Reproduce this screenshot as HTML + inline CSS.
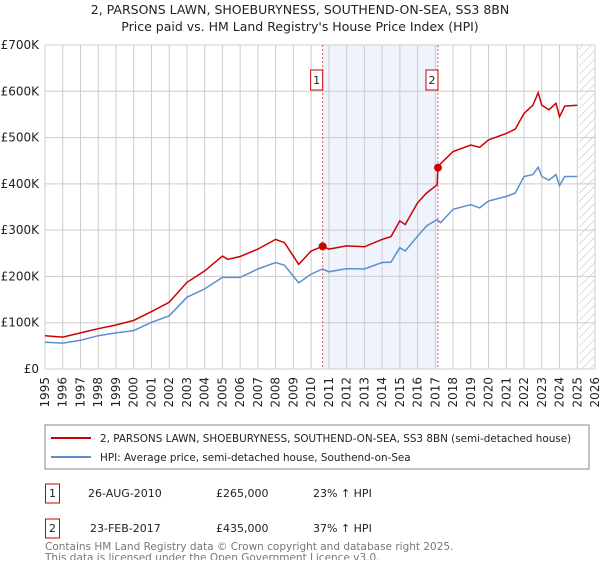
<!DOCTYPE html>
<html><head><meta charset="utf-8"><style>
body{margin:0;background:#fff;font-family:"Liberation Sans","DejaVu Sans",sans-serif;}
svg text{font-family:"DejaVu Sans","Liberation Sans",sans-serif;}
</style></head><body>
<svg id="c" width="600" height="560" viewBox="0 0 600 560" xmlns="http://www.w3.org/2000/svg">
<text x="300" y="14" text-anchor="middle" font-size="12.5" fill="#222">2, PARSONS LAWN, SHOEBURYNESS, SOUTHEND-ON-SEA, SS3 8BN</text>
<text x="300" y="31" text-anchor="middle" font-size="12.5" fill="#222">Price paid vs. HM Land Registry's House Price Index (HPI)</text>
<defs><pattern id="h" width="6" height="6" patternUnits="userSpaceOnUse" patternTransform="rotate(45)"><line x1="0" y1="0" x2="0" y2="6" stroke="#bbb" stroke-width="1"/></pattern></defs>
<g id="plot"></g>
<rect x="45" y="425" width="544" height="44" fill="#fff" stroke="#888"/>
<line x1="51" y1="438" x2="91" y2="438" stroke="#cc0000" stroke-width="2"/>
<text x="100" y="442" font-size="10.4" fill="#222">2, PARSONS LAWN, SHOEBURYNESS, SOUTHEND-ON-SEA, SS3 8BN (semi-detached house)</text>
<line x1="51" y1="457" x2="91" y2="457" stroke="#5b8fd0" stroke-width="2"/>
<text x="100" y="461" font-size="10.4" fill="#222">HPI: Average price, semi-detached house, Southend-on-Sea</text>
<g font-size="11" fill="#222">
<rect x="45.5" y="484" width="14" height="19" fill="none" stroke="#cc0000"/>
<text x="52.5" y="497" text-anchor="middle">1</text>
<text x="88" y="497">26-AUG-2010</text>
<text x="216" y="497">£265,000</text>
<text x="313" y="497">23% ↑ HPI</text>
<rect x="45.5" y="519" width="14" height="19" fill="none" stroke="#cc0000"/>
<text x="52.5" y="532" text-anchor="middle">2</text>
<text x="90" y="532">23-FEB-2017</text>
<text x="216" y="532">£435,000</text>
<text x="313" y="532">37% ↑ HPI</text>
</g>
<text x="45" y="550" font-size="10.5" fill="#777">Contains HM Land Registry data © Crown copyright and database right 2025.</text>
<text x="45" y="561" font-size="10.5" fill="#777">This data is licensed under the Open Government Licence v3.0.</text>
</svg>
<script>
const years=[1995,1996,1997,1998,1999,2000,2001,2002,2003,2004,2005,2006,2007,2008,2009,2010,2011,2012,2013,2014,2015,2016,2017,2018,2019,2020,2021,2022,2023,2024,2025,2026];
const yTicks=[0,100,200,300,400,500,600,700];
const yTickLabels=["£0","£100K","£200K","£300K","£400K","£500K","£600K","£700K"];
const redT=[1995,1996,1997,1998,1999,2000,2001,2002,2003,2004,2005,2005.3,2006,2007,2008,2008.5,2009.3,2010,2010.65,2011,2012,2013,2014,2014.5,2015,2015.3,2016,2016.5,2017.1,2017.15,2018,2019,2019.5,2020,2021,2021.5,2022,2022.5,2022.8,2023,2023.4,2023.8,2024,2024.3,2025];
const redV=[72,69,78,87,95,105,124,144,187,212,244,237,243,259,280,273,226,255,265,259,266,264,280,286,320,312,359,380,398,438,470,484,479,495,509,518,552,570,597,570,560,574,545,568,570];
const hpiT=[1995,1996,1997,1998,1999,2000,2001,2002,2003,2004,2005,2006,2007,2008,2008.5,2009.3,2010,2010.65,2011,2012,2013,2014,2014.5,2015,2015.3,2016,2016.5,2017.1,2017.3,2018,2019,2019.5,2020,2021,2021.5,2022,2022.5,2022.8,2023,2023.4,2023.8,2024,2024.3,2025];
const hpiV=[58,56,62,72,78,83,101,115,155,173,198,198,216,230,224,186,205,216,210,217,216,230,231,262,255,287,309,323,316,345,355,348,363,373,380,416,420,436,416,408,420,396,416,416];
const saleT=[2010.65,2017.15];
const saleV=[265,435];
const saleLabels=["1","2"];
const X=t=>45+(t-1995)*(550/31);
const Y=v=>369-v*(324/700);
const NS="http://www.w3.org/2000/svg";
const g=document.getElementById('plot');
function mk(tag,attrs){const e=document.createElementNS(NS,tag);for(const k in attrs)e.setAttribute(k,attrs[k]);g.appendChild(e);return e;}
let e;
e=mk('rect',{x:X(saleT[0]),y:Y(700),width:X(saleT[1])-X(saleT[0]),height:Y(0)-Y(700),fill:'#eef3fc'});


e=mk('rect',{x:X(2025.1),y:Y(700),width:X(2026)-X(2025.1),height:Y(0)-Y(700),fill:'url(#h)'});


years.forEach(yr=>{
 e=mk('line',{x1:X(yr),x2:X(yr),y1:Y(700),y2:Y(0),stroke:'#ccc','stroke-width':1});
 
 
 const t=mk('text',{x:0,y:0,'font-size':12,fill:'#222','text-anchor':'end',transform:`translate(${X(yr)+4},${Y(0)+8}) rotate(-90)`});
 t.textContent=yr;
 
 
});
yTicks.forEach((v,i)=>{
 e=mk('line',{x1:X(1995),x2:X(2026),y1:Y(v),y2:Y(v),stroke:'#ccc','stroke-width':1});
 
 
 const t=mk('text',{x:39,y:Y(v)+4,'font-size':12,fill:'#222','text-anchor':'end'});
 t.textContent=yTickLabels[i];
 
 
});
saleT.forEach((t,i)=>{
 e=mk('line',{x1:X(t),x2:X(t),y1:Y(700),y2:Y(0),stroke:'#e06060','stroke-dasharray':'2,2','stroke-width':1});
 
 
 e=mk('rect',{x:X(t)-12,y:70,width:12,height:20,fill:'#fff',stroke:'#cc0000'});
 
 
 const tx=mk('text',{x:X(t)-6,y:84,'font-size':11,fill:'#222','text-anchor':'middle'});
 tx.textContent=saleLabels[i];
 
 
});
e=mk('path',{d:hpiT.map((t,i)=>(i?'L':'M')+X(t).toFixed(1)+','+Y(hpiV[i]).toFixed(1)).join(''),fill:'none',stroke:'#5b8fd0','stroke-width':1.5});


e=mk('path',{d:redT.map((t,i)=>(i?'L':'M')+X(t).toFixed(1)+','+Y(redV[i]).toFixed(1)).join(''),fill:'none',stroke:'#cc0000','stroke-width':1.5});


saleT.forEach((t,i)=>{
 e=mk('circle',{cx:X(t),cy:Y(saleV[i]),r:4,fill:'#cc0000'});
 
 
});
</script>
</body></html>
